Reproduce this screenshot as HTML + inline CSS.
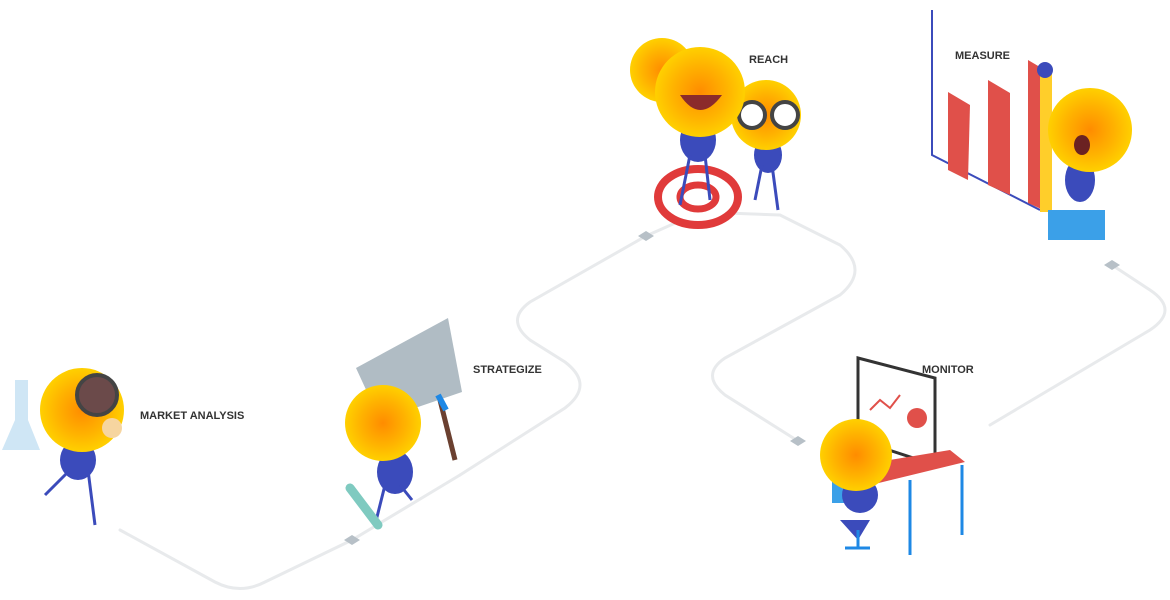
<!DOCTYPE html>
<html><head><meta charset="utf-8"><style>
html,body{margin:0;padding:0;background:#fff;width:1170px;height:600px;overflow:hidden}
svg{display:block}
text{font-family:"Liberation Sans",sans-serif;font-weight:bold;font-size:11px;fill:#333}
</style></head><body>
<svg width="1170" height="600" viewBox="0 0 1170 600">
<defs>
<radialGradient id="f" cx="0.5" cy="0.5" r="0.5">
<stop offset="0" stop-color="#ff8c00"/><stop offset="0.6" stop-color="#ffb300"/><stop offset="1" stop-color="#ffd000"/>
</radialGradient>
</defs>
<g fill="none" stroke="#e8eaec" stroke-width="3" stroke-linecap="round">
<path d="M120 530 L215 582 Q240 595 265 582 L352 540 L460 475"/>
<path d="M460 475 L565 408 Q595 385 565 362 L530 340 Q505 320 530 302 L646 236"/>
<path d="M646 236 L700 212 L780 215 L840 245 Q870 270 840 295 L725 358 Q700 375 725 395 L798 441"/>
<path d="M990 425 L1150 330 Q1180 310 1150 290 L1112 265"/>
</g>
<g fill="#b7c0c7">
<polygon points="352,535 360,540 352,545 344,540"/>
<polygon points="646,231 654,236 646,241 638,236"/>
<polygon points="798,436 806,441 798,446 790,441"/>
<polygon points="1112,260 1120,265 1112,270 1104,265"/>
</g>
<text x="140" y="419">MARKET ANALYSIS</text>
<text x="473" y="373">STRATEGIZE</text>
<text x="749" y="63">REACH</text>
<text x="955" y="59">MEASURE</text>
<text x="922" y="373">MONITOR</text>

<!-- market analysis -->
<path d="M15 380 L28 380 L28 420 L40 450 L2 450 L15 420 Z" fill="#cfe6f5"/>
<path d="M60 440 Q75 470 90 440 Z" fill="#3b4bbb"/>
<ellipse cx="78" cy="460" rx="18" ry="20" fill="#3b4bbb"/>
<path d="M70 470 L45 495 M88 470 L95 525" stroke="#3b4bbb" stroke-width="3" fill="none"/>
<circle cx="82" cy="410" r="42" fill="url(#f)"/>
<circle cx="97" cy="395" r="20" fill="#6b4a4a" stroke="#444" stroke-width="4"/>
<circle cx="112" cy="428" r="10" fill="#f6d5a0"/>

<!-- strategize -->
<polygon points="356,368 448,318 462,392 380,420" fill="#b0bcc4"/>
<path d="M440 400 L455 460" stroke="#6b4030" stroke-width="5"/>
<ellipse cx="395" cy="472" rx="18" ry="22" fill="#3b4bbb"/>
<path d="M385 485 L375 525 M400 485 L412 500" stroke="#3b4bbb" stroke-width="3" fill="none"/>
<path d="M350 488 L378 525" stroke="#7fcac0" stroke-width="9" stroke-linecap="round"/>
<path d="M438 395 L446 410" stroke="#1e88e5" stroke-width="6"/>
<circle cx="383" cy="423" r="38" fill="url(#f)"/>

<!-- reach -->
<ellipse cx="698" cy="197" rx="40" ry="28" fill="#fff" stroke="#e03a3a" stroke-width="8"/>
<ellipse cx="698" cy="197" rx="18" ry="12" fill="none" stroke="#e03a3a" stroke-width="7"/>
<ellipse cx="698" cy="140" rx="18" ry="22" fill="#3b4bbb"/>
<ellipse cx="768" cy="155" rx="14" ry="18" fill="#3b4bbb"/>
<path d="M690 155 L680 205 M705 155 L710 200 M762 165 L755 200 M772 165 L778 210" stroke="#3b4bbb" stroke-width="3"/>
<circle cx="662" cy="70" r="32" fill="url(#f)"/>
<circle cx="766" cy="115" r="35" fill="url(#f)"/>
<circle cx="752" cy="115" r="13" fill="#fff" stroke="#444" stroke-width="4"/>
<circle cx="785" cy="115" r="13" fill="#fff" stroke="#444" stroke-width="4"/>
<circle cx="700" cy="92" r="45" fill="url(#f)"/>
<path d="M680 95 Q700 125 722 95 Z" fill="#8b2b2b"/>

<!-- measure -->
<path d="M932 10 L932 155 L1040 210" stroke="#3b4bbb" stroke-width="2" fill="none"/>
<polygon points="948,92 970,105 968,180 948,170" fill="#e0504a"/>
<polygon points="988,80 1010,93 1010,195 988,185" fill="#e0504a"/>
<polygon points="1028,60 1050,73 1050,213 1028,203" fill="#e0504a"/>
<rect x="1040" y="72" width="12" height="140" fill="#ffce2a"/>
<polygon points="1048,210 1105,210 1105,240 1048,240" fill="#3ba0e8"/>
<ellipse cx="1080" cy="180" rx="15" ry="22" fill="#3b4bbb"/>
<circle cx="1090" cy="130" r="42" fill="url(#f)"/>
<ellipse cx="1082" cy="145" rx="8" ry="10" fill="#6b2222"/>
<circle cx="1045" cy="70" r="8" fill="#3b4bbb"/>

<!-- monitor -->
<polygon points="858,358 935,378 935,465 858,440" fill="#fff" stroke="#333" stroke-width="3"/>
<circle cx="917" cy="418" r="10" fill="#e0504a"/>
<path d="M870 410 L880 400 L890 408 L900 395" stroke="#e0504a" stroke-width="2" fill="none"/>
<polygon points="830,470 950,450 965,462 850,490" fill="#e0504a"/>
<path d="M910 480 L910 555 M962 465 L962 535" stroke="#1e88e5" stroke-width="3"/>
<rect x="832" y="468" width="18" height="35" fill="#3ba0e8"/>
<path d="M840 520 L870 520 L858 540 Z" fill="#3b4bbb"/>
<path d="M858 530 L858 548 M845 548 L870 548" stroke="#1e88e5" stroke-width="3"/>
<ellipse cx="860" cy="495" rx="18" ry="18" fill="#3b4bbb"/>
<circle cx="856" cy="455" r="36" fill="url(#f)"/>
</svg>
</body></html>
